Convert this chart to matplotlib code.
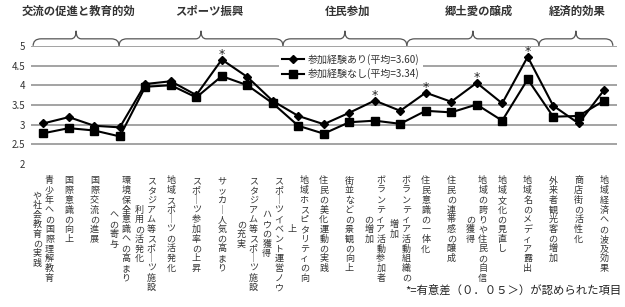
import matplotlib
matplotlib.use('Agg')
import matplotlib.pyplot as plt
from matplotlib.path import Path
from matplotlib.patches import PathPatch

plt.rcParams['font.family'] = ['Noto Sans CJK JP', 'DejaVu Sans']

# ---------------- data ----------------
categories = [
    '青少年への国際理解教育\nや社会教育の実践',
    '国際意識の向上',
    '国際交流の進展',
    '環境保全意識への高まり\nへの寄与',
    'スタジアム等スポーツ施設\n利用の活発化',
    '地域スポーツの活発化',
    'スポーツ参加率の上昇',
    'サッカー人気の高まり',
    'スタジアム等スポーツ施設\nの充実',
    'スポーツイベント運営ノウ\nハウの獲得',
    '地域ホスピタリティの向\n上',
    '住民の美化運動の実践',
    '街並などの景観の向上',
    'ボランティア活動参加者\nの増加',
    'ボランティア活動組織の\n増加',
    '住民意識の一体化',
    '住民の連帯感の醸成',
    '地域の誇りや住民の自信\nの獲得',
    '地域文化の見直し',
    '地域名のメディア露出',
    '外来者観光客の増加',
    '商店街の活性化',
    '地域経済への波及効果',
]
with_exp = [3.03, 3.19, 2.97, 2.93, 4.03, 4.10, 3.75, 4.65, 4.21, 3.60, 3.22, 3.01,
            3.30, 3.61, 3.35, 3.81, 3.58, 4.06, 3.54, 4.72, 3.48, 3.03, 3.88]
without_exp = [2.78, 2.91, 2.85, 2.70, 3.96, 4.00, 3.69, 4.23, 4.00, 3.54, 2.97, 2.77,
               3.06, 3.10, 3.02, 3.35, 3.31, 3.51, 3.10, 4.15, 3.20, 3.22, 3.61]
significant = [False, False, False, False, False, False, False, True, False, False, False, False,
               False, True, False, True, False, True, False, True, False, False, False]
series_labels = ['参加経験あり(平均=3.60)', '参加経験なし(平均=3.34)']
group_names = ['交流の促進と教育的効', 'スポーツ振興', '住民参加', '郷土愛の醸成', '経済的効果']
y_ticks = [2, 2.5, 3, 3.5, 4, 4.5, 5]
y_tick_labels = ['2', '2.5', '3', '3.5', '4', '4.5', '5']
footnote = '*=有意差（０．０５＞）が認められた項目'

# ---------------- layout ----------------
W, H = 625, 307
fig = plt.figure(figsize=(W / 100, H / 100), dpi=100)
ax_left, ax_right, ax_top, ax_bot = 30.6, 616.9, 45.8, 164.0
ax = fig.add_axes([ax_left / W, 1 - ax_bot / H, (ax_right - ax_left) / W, (ax_bot - ax_top) / H])

xs = list(range(len(categories)))
l1, = ax.plot(xs, with_exp, color='black', lw=1.5, marker='D', ms=4, zorder=4,
              label=series_labels[0])
l2, = ax.plot(xs, without_exp, color='black', lw=1.5, marker='s', ms=6, zorder=3,
              label=series_labels[1])

ax.set_xlim(-0.5, len(categories) - 0.5)
ax.set_ylim(y_ticks[0], y_ticks[-1])
ax.set_yticks(y_ticks)
ax.set_yticklabels(y_tick_labels)
ax.set_xticks([])
ax.tick_params(axis='y', length=0, pad=4, labelsize=7, labelcolor='#333333')
for s in ax.spines.values():
    s.set_visible(False)
for v in y_ticks[1:]:
    ax.axhline(v, color='#8a8a8a', lw=1.1, zorder=1)

leg = ax.legend(handles=[l1, l2], loc='upper left', bbox_to_anchor=(0.4237, 0.955),
                frameon=True, fancybox=False, edgecolor='none', facecolor='white',
                framealpha=1, fontsize=7.2, handlelength=2.2, handletextpad=0.4,
                labelspacing=0.35, borderpad=0.3, borderaxespad=0)
for t in leg.get_texts():
    t.set_color('#333333')

# significance asterisks
for i, flag in enumerate(significant):
    if flag:
        ax.annotate('*', (i, with_exp[i]), xytext=(0, 4), textcoords='offset points',
                    ha='center', va='center', fontsize=9, family='DejaVu Sans', color='#222222')

# vertical category labels
px = 0.72  # points per pixel
pitch = 9.7
first_center = 17.0
for i, lab in enumerate(categories):
    cols = lab.split('\n')
    maxlen = max(len(c) for c in cols)
    n = len(cols)
    for k, col in enumerate(cols):
        dx = (n - 1) * 6.0 - k * 12.0
        off = (maxlen - len(col)) / 2.0
        for j, ch in enumerate(col):
            if ch == 'ー':
                ch = '｜'
            dy = -(first_center + (off + j) * pitch)
            ax.annotate(ch, xy=(i, 0), xycoords=('data', 'axes fraction'),
                        xytext=(dx * px, dy * px), textcoords='offset points',
                        ha='center', va='center', fontsize=6.5, color='#333333',
                        annotation_clip=False)

# group braces
spans = [(-0.40, 2.97), (2.97, 9.40), (9.40, 14.26), (14.26, 19.44), (19.44, 22.34)]
title_pos = [1.38, 6.50, 11.93, 17.09, 20.95]
yb, ybody, ytip = 5.0, 5.177, 5.38
rx, tx = 0.31, 0.2
for (x0, x1) in spans:
    xm = (x0 + x1) / 2
    verts = [(x0, yb), (x0, ybody), (x0 + rx, ybody),
             (xm - tx, ybody), (xm, ybody), (xm, ytip),
             (xm, ybody), (xm + tx, ybody),
             (x1 - rx, ybody), (x1, ybody), (x1, yb)]
    codes = [Path.MOVETO, Path.CURVE3, Path.CURVE3,
             Path.LINETO, Path.CURVE3, Path.CURVE3,
             Path.CURVE3, Path.CURVE3,
             Path.LINETO, Path.CURVE3, Path.CURVE3]
    ax.add_patch(PathPatch(Path(verts, codes), facecolor='none', edgecolor='#555555',
                           lw=0.9, clip_on=False))

for name, pos in zip(group_names, title_pos):
    ax.annotate(name, xy=(pos, 1 - 11 / H), xycoords=('data', 'figure fraction'),
                ha='center', va='center', fontsize=8.2, fontweight='bold', color='#333333',
                annotation_clip=False)

fig.text(622 / W, 1 - 290 / H, footnote, ha='right', va='center', fontsize=8.2,
         color='#222222')

fig.savefig('out.png', dpi=100)
